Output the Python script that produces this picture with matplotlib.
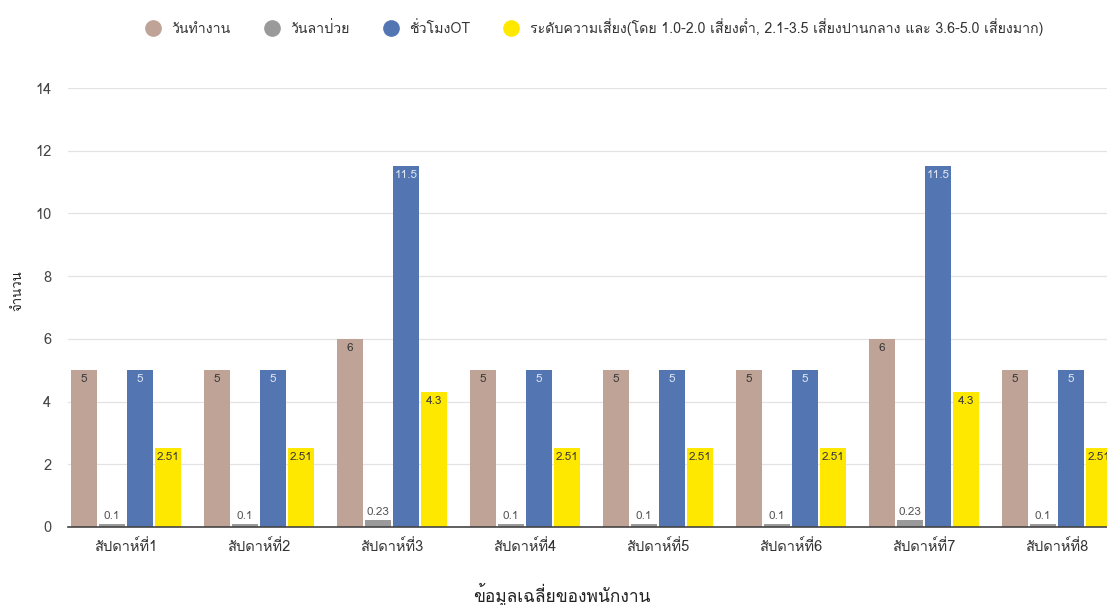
import numpy as np
import matplotlib
matplotlib.use("Agg")
import matplotlib.pyplot as plt
from matplotlib import font_manager
from matplotlib.lines import Line2D

weeks = ["สัปดาห์ที่1", "สัปดาห์ที่2", "สัปดาห์ที่3", "สัปดาห์ที่4",
         "สัปดาห์ที่5", "สัปดาห์ที่6", "สัปดาห์ที่7", "สัปดาห์ที่8"]
work_days = [5, 5, 6, 5, 5, 5, 6, 5]
sick_days = [0.1, 0.1, 0.23, 0.1, 0.1, 0.1, 0.23, 0.1]
ot_hours = [5, 5, 11.5, 5, 5, 5, 11.5, 5]
risk_level = [2.51, 2.51, 4.3, 2.51, 2.51, 2.51, 4.3, 2.51]

series_names = ["วันทำงาน", "วันลาป่วย", "ชั่วโมงOT",
                "ระดับความเสี่ยง(โดย 1.0-2.0 เสี่ยงต่ำ, 2.1-3.5 เสี่ยงปานกลาง และ 3.6-5.0 เสี่ยงมาก)"]
colors = ["#bfa396", "#9a9a9a", "#5376b2", "#ffe800"]
label_colors = ["#3a3a3a", "#555555", "#dfe6f2", "#3a3a3a"]


def find_thai_font():
    # look for any installed font that has Thai glyphs
    try:
        from fontTools.ttLib import TTFont
    except ImportError:
        return None
    for f in font_manager.fontManager.ttflist:
        try:
            tt = TTFont(f.fname, fontNumber=0, lazy=True)
            cmap = tt.getBestCmap()
            if cmap and 0x0E27 in cmap and 0x0E34 in cmap:
                return f.name
        except Exception:
            continue
    return None


thai = find_thai_font()
fams = ([thai] if thai else []) + ["DejaVu Sans"]
plt.rcParams["font.family"] = fams

fig = plt.figure(figsize=(11.07, 6.05), dpi=100)
ax = fig.add_axes([0.0614, 0.129, 1.0 - 0.0614, 0.7255])

x = np.arange(len(weeks))
step = 0.21
width = 0.195
data = [work_days, sick_days, ot_hours, risk_level]
for i, vals in enumerate(data):
    off = (i - 1.5) * step
    bars = ax.bar(x + off, vals, width, color=colors[i], zorder=3)
    for b, v in zip(bars, vals):
        txt = f"{v:g}"
        if v < 1:
            ax.text(b.get_x() + b.get_width() / 2, v + 0.08, txt, ha="center",
                    va="bottom", fontsize=8.5, color="#555555", zorder=4)
        else:
            ax.text(b.get_x() + b.get_width() / 2, v - 0.12, txt, ha="center",
                    va="top", fontsize=8.5, color=label_colors[i], zorder=4)

ax.set_xlim(-0.436, 7.376)
ax.set_ylim(0, 14)
ax.set_yticks(range(0, 15, 2))
ax.set_xticks(x)
ax.set_xticklabels(weeks, fontsize=10.5, color="#333333")
ax.tick_params(axis="y", labelsize=10.5, colors="#444444", length=0, pad=12)
ax.tick_params(axis="x", length=0, pad=9)
ax.grid(axis="y", color="#e3e3e3", linewidth=0.9, zorder=0)
for s in ["top", "right", "left"]:
    ax.spines[s].set_visible(False)
ax.spines["bottom"].set_color("#444444")
ax.spines["bottom"].set_linewidth(1.2)
ax.spines["bottom"].set_zorder(5)

ax.set_ylabel("จำนวน", fontsize=9.5, color="#222222", va="center")
ax.yaxis.set_label_coords((18 - 68) / 1039, (527 - 291) / 439)
ax.set_xlabel("ข้อมูลเฉลี่ยของพนักงาน", fontsize=12.5, color="#222222", va="center")
ax.xaxis.set_label_coords((562 - 68) / 1039, (527 - 594) / 439)

handles = [Line2D([0], [0], marker="o", linestyle="", markersize=11,
                  markerfacecolor=c, markeredgecolor=c) for c in colors]
fig.legend(handles, series_names, loc="center", bbox_to_anchor=(0.534, 0.955),
           ncol=4, frameon=False, fontsize=10.2, handletextpad=0.3,
           columnspacing=1.9, labelcolor="#333333")

fig.savefig("out.png", dpi=100)
